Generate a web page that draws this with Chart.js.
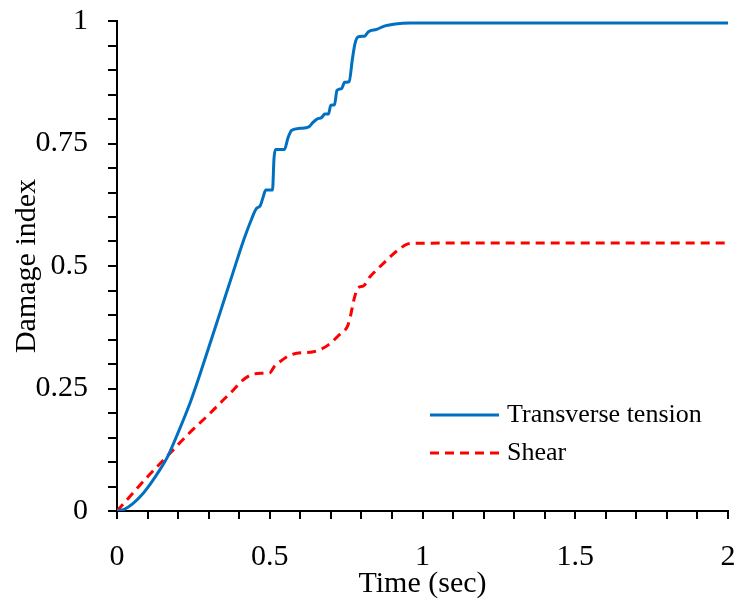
<!DOCTYPE html>
<html>
<head>
<meta charset="utf-8">
<script src="https://cdn.jsdelivr.net/npm/chart.js@4.4.1/dist/chart.umd.min.js"></script>
<style>
  html, body { margin: 0; padding: 0; background: #fff; }
  #wrap { width: 738px; height: 606px; }
</style>
</head>
<body>
<div id="wrap"><canvas id="dano" width="738" height="606"></canvas></div>
<script>
// dados
const tempoTracao = [0, 0.025, 0.05, 0.08, 0.11, 0.14, 0.165, 0.2, 0.24, 0.27, 0.3, 0.34, 0.38, 0.413, 0.44, 0.457, 0.468, 0.478, 0.487, 0.509, 0.514, 0.519, 0.548, 0.56, 0.572, 0.6, 0.628, 0.64, 0.655, 0.67, 0.68, 0.692, 0.7, 0.712, 0.72, 0.735, 0.745, 0.76, 0.77, 0.779, 0.79, 0.81, 0.823, 0.85, 0.877, 0.91, 0.96, 1.2, 1.6, 2.0];
const tracaoTransversal = [0, 0.004, 0.014, 0.032, 0.056, 0.084, 0.11, 0.16, 0.222, 0.276, 0.333, 0.41, 0.487, 0.55, 0.595, 0.618, 0.622, 0.64, 0.655, 0.655, 0.72, 0.738, 0.738, 0.762, 0.777, 0.781, 0.784, 0.792, 0.8, 0.803, 0.81, 0.81, 0.828, 0.829, 0.858, 0.862, 0.875, 0.876, 0.92, 0.954, 0.968, 0.969, 0.978, 0.983, 0.99, 0.994, 0.996, 0.996, 0.996, 0.996];

const tempoCisalhamento = [0, 0.05, 0.1, 0.163, 0.23, 0.304, 0.35, 0.381, 0.41, 0.44, 0.47, 0.5, 0.515, 0.534, 0.56, 0.588, 0.643, 0.67, 0.692, 0.73, 0.755, 0.765, 0.775, 0.79, 0.806, 0.828, 0.85, 0.883, 0.915, 0.96, 1.2, 2.0];
const cisalhamento = [0, 0.035, 0.07, 0.111, 0.155, 0.199, 0.228, 0.247, 0.266, 0.278, 0.281, 0.282, 0.295, 0.305, 0.316, 0.322, 0.325, 0.331, 0.339, 0.361, 0.378, 0.40, 0.43, 0.456, 0.459, 0.478, 0.492, 0.512, 0.53, 0.546, 0.547, 0.547];

const rotulos = ["Transverse tension", "Shear"];
const rotulosX = [0, 0.5, 1, 1.5, 2];
const rotulosY = [0, 0.25, 0.5, 0.75, 1];

const pontos = (xs, ys) => xs.map((x, i) => ({ x: x, y: ys[i] }));
const temRotulo = (v, lista) => lista.some(r => Math.abs(r - v) < 1e-6);

// legenda dentro da área do gráfico
const legendaInterna = {
    id: "legendaInterna",
    afterDatasetsDraw(chart) {
        const c = chart.ctx;
        const linhas = [415, 453];
        c.save();
        chart.data.datasets.forEach((ds, i) => {
            c.beginPath();
            c.strokeStyle = ds.borderColor;
            c.lineWidth = ds.borderWidth;
            c.setLineDash(ds.borderDash || []);
            c.moveTo(430, linhas[i]);
            c.lineTo(499, linhas[i]);
            c.stroke();
            c.setLineDash([]);
            c.fillStyle = "#000";
            c.font = "26px 'Liberation Serif'";
            c.textBaseline = "middle";
            c.fillText(ds.label, 507, linhas[i]);
        });
        c.restore();
    },
};

document.addEventListener("DOMContentLoaded", () => {
    const ctx = document.getElementById("dano").getContext("2d");

    const fonte = { family: "'Liberation Serif'", size: 30 };

    const myChart = new Chart(ctx, {
        type: "line",
        data: {
            datasets: [
                {
                    label: rotulos[0],
                    data: pontos(tempoTracao, tracaoTransversal),
                    borderColor: "#0070C0",
                    borderWidth: 3,
                    pointRadius: 0,
                    cubicInterpolationMode: "monotone",
                },
                {
                    label: rotulos[1],
                    data: pontos(tempoCisalhamento, cisalhamento),
                    borderColor: "#FF0000",
                    borderWidth: 3,
                    borderDash: [9, 6],
                    pointRadius: 0,
                    cubicInterpolationMode: "monotone",
                },
            ],
        },
        options: {
            responsive: false,
            animation: false,
            layout: { padding: { left: 0, top: 21, right: 10, bottom: 0 } },
            plugins: {
                legend: { display: false },
                tooltip: { enabled: false },
            },
            scales: {
                x: {
                    type: "linear",
                    min: 0,
                    max: 2,
                    afterFit: (s) => {
                        s.height = 95;
                        s.paddingLeft = 0;
                        s.paddingRight = 0;
                    },
                    border: { display: true, color: "#000", width: 2 },
                    grid: { drawOnChartArea: false, drawTicks: true, tickLength: 8, color: "#000", lineWidth: 2 },
                    ticks: {
                        stepSize: 0.1,
                        autoSkip: false,
                        maxRotation: 0,
                        color: "#000",
                        font: fonte,
                        padding: 20,
                        callback: (v) => (temRotulo(v, rotulosX) ? String(Math.round(v * 10) / 10) : ""),
                    },
                    title: {
                        display: true,
                        text: "Time (sec)",
                        color: "#000",
                        font: fonte,
                        padding: { top: 0, bottom: 4 },
                    },
                },
                y: {
                    min: 0,
                    max: 1,
                    afterFit: (s) => {
                        s.width = 117;
                        s.paddingTop = 0;
                        s.paddingBottom = 0;
                    },
                    border: { display: true, color: "#000", width: 2 },
                    grid: { drawOnChartArea: false, drawTicks: true, tickLength: 9, color: "#000", lineWidth: 2 },
                    ticks: {
                        stepSize: 0.05,
                        autoSkip: false,
                        color: "#000",
                        font: fonte,
                        padding: 20,
                        callback: (v) => (temRotulo(v, rotulosY) ? String(Math.round(v * 100) / 100) : ""),
                    },
                    title: {
                        display: true,
                        text: "Damage index",
                        color: "#000",
                        font: fonte,
                        padding: { top: 9, bottom: 0 },
                    },
                },
            },
        },
        plugins: [legendaInterna],
    });
});
</script>
</body>
</html>
